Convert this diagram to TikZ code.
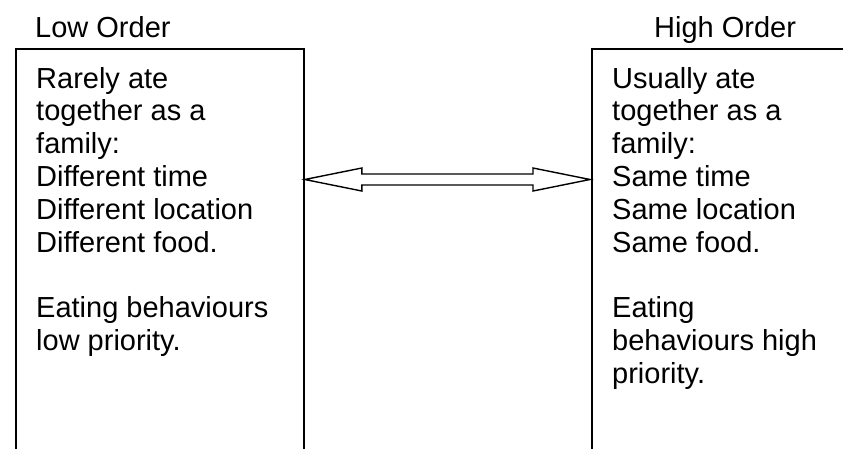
\documentclass[tikz,border=0pt]{standalone}
\usepackage{fontspec}
\setmainfont{Liberation Sans}
\usetikzlibrary{calc}
\newcommand\textlines[1]{\vtop{\baselineskip=32.8pt\lineskiplimit=-100pt\halign{##\hfil\cr#1\crcr}}}
\tikzset{
  box/.style={draw=black, line width=1.8pt, fill=white, inner sep=0pt, anchor=north west},
  txt/.style={inner sep=0pt, anchor=base west, font=\fontsize{29}{32.8}\selectfont},
  arrowline/.style={draw=black, line width=1.4pt, line join=miter}
}
\begin{document}
\begin{tikzpicture}[x=1pt,y=-1pt]
\useasboundingbox (0,0) rectangle (843,448);
\fill[white] (0,0) rectangle (843,448);
\begin{scope}
\clip (0,0) rectangle (843,448);
\node[box, minimum width=288pt, minimum height=420pt] (L) at (15,48) {};
\node[box, minimum width=300pt, minimum height=420pt] (R) at (591,48) {};
\coordinate (A) at ($(L.north east)+(0,131.5)$);
\coordinate (B) at ($(R.north west)+(-1,131.5)$);
\draw[arrowline] (A) -- ++(57,-11.5) -- ++(0,6) -- ($(B)+(-57,-5.5)$) -- ++(0,-6) -- (B)
  -- ++(-57,11.5) -- ++(0,-6) -- ($(A)+(57,5.5)$) -- ++(0,6) -- cycle;
\end{scope}
\node[txt] (lowlabel) at (35,37) {Low Order};
\node[txt] (highlabel) at (654,37) {High Order};
\node[txt] (lowtext) at (36,88) {\textlines{Rarely ate\cr together as a\cr family:\cr Different time\cr Different location\cr Different food.\cr \cr Eating behaviours\cr low priority.}};
\node[txt] (hightext) at (612,88) {\textlines{Usually ate\cr together as a\cr family:\cr Same time\cr Same location\cr Same food.\cr \cr Eating\cr behaviours high\cr priority.}};
\end{tikzpicture}
\end{document}
